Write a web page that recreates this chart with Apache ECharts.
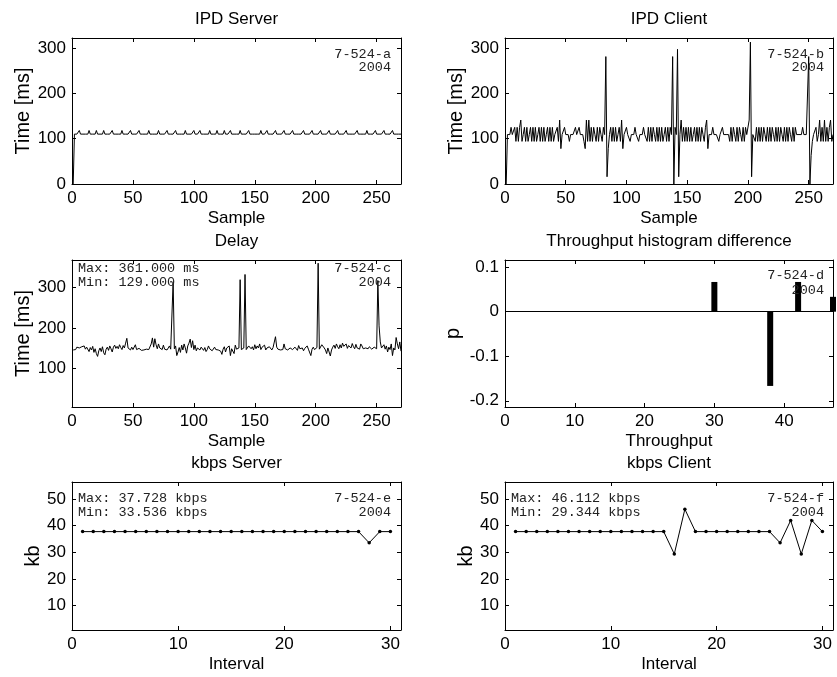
<!DOCTYPE html>
<html><head><meta charset="utf-8">
<script src="https://cdn.jsdelivr.net/npm/echarts@6/dist/echarts.min.js"></script>
<style>html,body{margin:0;padding:0;background:#fff}#c{width:837px;height:677px}</style>
</head><body><div id="c"></div>
<script>
// ---------- data ----------
const ipdServer = [
0,110,110,110,110,118,110,110,110,110, 110,110,110,118,110,110,110,110,110,118, 110,110,110,110,110,118,110,110,110,110,
110,110,118,110,110,110,110,110,110,110, 118,110,110,110,110,110,110,118,110,110, 110,110,110,110,118,110,110,110,110,110,
110,110,118,110,110,110,110,110,110,110, 118,110,110,110,110,110,110,118,110,110, 110,110,110,110,118,110,110,110,110,110,
110,110,118,110,110,110,110,110,110,118, 110,110,110,110,118,110,110,110,110,110, 110,110,118,110,110,110,110,110,118,110,
110,110,110,110,118,110,110,110,110,118, 110,110,110,110,110,110,110,118,110,110, 110,110,110,110,118,110,110,110,110,110,
110,110,110,110,118,110,110,110,110,118, 110,110,110,110,110,110,118,110,110,110, 110,110,110,118,110,110,110,110,110,110,
118,110,110,110,110,110,110,110,110,118, 110,110,110,110,110,110,118,110,110,110, 110,110,110,118,110,110,110,110,110,110,
118,110,110,110,110,110,110,118,110,110, 110,110,110,110,118,110,110,110,110,110, 110,110,110,118,110,110,110,110,110,110,
110,118,110,110,110,110,110,110,118,110, 110,110,110,110,110,118,110,110,110,110, 110,110,118,110,110,110,110,110,110,110
];
const ipdClient = [
0,109,109,109,125,109,109,125,94,125, 94,125,141,94,109,125,94,125,94,109, 125,94,125,94,125,94,109,125,94,125,
94,125,94,109,125,94,125,94,125,94, 109,109,125,94,141,78,109,109,125,109, 109,109,94,109,109,109,109,125,109,109,
125,109,109,109,94,78,141,94,141,94, 125,94,125,109,94,125,94,125,109,94, 125,109,281,16,78,109,125,94,125,94,
125,94,109,125,94,141,78,109,109,125, 109,109,94,109,109,109,125,109,109,94, 109,109,109,125,109,109,94,125,94,125,
94,125,109,94,125,94,125,94,125,94, 109,125,94,125,94,125,109,281,0,125, 109,297,16,109,141,94,125,94,125,94,
125,94,125,94,109,125,94,125,94,125, 94,125,109,94,125,141,78,109,109,109, 125,109,109,109,109,94,109,109,125,109,
109,109,109,109,94,125,94,125,109,94, 125,94,125,109,94,125,94,125,109,109, 141,313,16,109,109,94,125,94,125,94,
125,94,125,109,94,125,94,125,94,125, 109,94,125,94,125,94,125,109,94,125, 94,125,94,125,109,94,125,94,125,109,
109,109,109,109,125,109,109,109,109,281, 0,63,94,109,109,125,94,109,141,94, 125,94,141,94,125,94,125,141,94,109
];
const delay = [
145,144,146,152,156,150,148,153,149,155, 147,152,150,141,151,145,154,139,148,136, 129,143,150,141,153,138,133,147,152,144,
155,148,140,152,157,149,154,148,158,151, 146,156,150,162,174,150,147,145,152,146, 147,158,146,145,149,147,144,146,145,147,
147,150,146,144,160,175,152,173,158,148, 160,150,153,146,157,147,149,145,150,155, 147,146,315,148,155,131,140,151,139,157,
145,160,150,137,155,162,172,151,168,146, 157,143,150,147,145,152,148,144,151,141, 146,155,148,150,143,147,152,146,149,145,
148,142,134,147,153,140,150,146,155,131, 148,152,136,157,147,145,150,320,146,150, 150,333,146,148,155,159,148,153,145,158,
148,155,150,160,146,152,148,157,145,150, 147,153,149,145,151,148,178,152,147,146, 145,147,146,160,148,146,145,148,150,154,
146,145,152,149,144,156,148,146,150,143, 149,145,155,147,150,131,147,152,146,143, 151,361,147,148,158,160,150,145,136,150,
146,130,145,152,157,149,160,153,148,158, 150,162,154,151,160,149,156,158,150,161, 153,148,159,150,152,147,160,155,148,152,
150,152,148,153,150,147,149,152,150,148, 318,205,165,150,148,158,147,155,140,152, 146,160,131,150,145,176,160,148,165,142
];
const intervals = [1,2,3,4,5,6,7,8,9,10,11,12,13,14,15,16,17,18,19,20,21,22,23,24,25,26,27,28,29,30];
const kbpsServer = [37.728,37.728,37.728,37.728,37.728,37.728,37.728,37.728,37.728,37.728,
  37.728,37.728,37.728,37.728,37.728,37.728,37.728,37.728,37.728,37.728,
  37.728,37.728,37.728,37.728,37.728,37.728,37.728,33.536,37.728,37.728];
const kbpsClient = [37.728,37.728,37.728,37.728,37.728,37.728,37.728,37.728,37.728,37.728,
  37.728,37.728,37.728,37.728,37.728,29.344,46.112,37.728,37.728,37.728,
  37.728,37.728,37.728,37.728,37.728,33.536,41.92,29.344,41.92,37.728];
const throughputBins = [30, 38, 42, 47];
const throughputDiff = [0.0667, -0.1667, 0.0667, 0.0333];

const sampleTicks = [0,50,100,150,200,250];
const timeTicks = [0,100,200,300];
const delayTicks = [100,200,300];
const throughputTicks = [0,10,20,30,40];
const pTicks = [-0.2,-0.1,0,0.1];
const intervalTicks = [0,10,20,30];
const kbTicks = [10,20,30,40,50];

// ---------- layout ----------
const SANS = '"Liberation Sans", Arial, sans-serif';
const MONO = '"Liberation Mono", "Courier New", monospace';
const grids = [
  {left:72, top:38, width:329, height:146},
  {left:505, top:38, width:328, height:146},
  {left:72, top:260, width:329, height:147},
  {left:505, top:260, width:328, height:147},
  {left:72, top:482, width:329, height:148},
  {left:505, top:482, width:328, height:148}
];
const axisSpec = [
  {x:{min:0,max:270,ticks:sampleTicks,name:'Sample'}, y:{min:0,max:322,ticks:timeTicks,name:'Time [ms]',gap:38}},
  {x:{min:0,max:270,ticks:sampleTicks,name:'Sample'}, y:{min:0,max:322,ticks:timeTicks,name:'Time [ms]',gap:38}},
  {x:{min:0,max:270,ticks:sampleTicks,name:'Sample'}, y:{min:3,max:369,ticks:delayTicks,name:'Time [ms]',gap:38}},
  {x:{min:0,max:47,ticks:throughputTicks,name:'Throughput'}, y:{min:-0.214,max:0.116,ticks:pTicks,name:'p',gap:42}},
  {x:{min:0,max:31,ticks:intervalTicks,name:'Interval'}, y:{min:0.9,max:56.3,ticks:kbTicks,name:'kb',gap:29}},
  {x:{min:0,max:31,ticks:intervalTicks,name:'Interval'}, y:{min:0.9,max:56.3,ticks:kbTicks,name:'kb',gap:29}}
];
const black = {color:'#000', width:1};
const xAxes = [], yAxes = [];
axisSpec.forEach((s, gi) => {
  ['bottom','top'].forEach((pos, k) => {
    xAxes.push({type:'value', gridIndex:gi, position:pos, min:s.x.min, max:s.x.max,
      axisLine:{show:true, onZero:false, lineStyle:black},
      axisTick:{show:true, inside:true, length:4, customValues:s.x.ticks, lineStyle:black},
      axisLabel:{show:k===0, customValues:s.x.ticks, color:'#000', fontFamily:SANS, fontSize:17, margin:6},
      splitLine:{show:false},
      name: k===0 ? s.x.name : '', nameLocation:'middle', nameGap:26,
      nameTextStyle:{color:'#000', fontFamily:SANS, fontSize:17}});
  });
  ['left','right'].forEach((pos, k) => {
    yAxes.push({type:'value', gridIndex:gi, position:pos, min:s.y.min, max:s.y.max,
      axisLine:{show:true, onZero:false, lineStyle:black},
      axisTick:{show:true, inside:true, length:4, customValues:s.y.ticks, lineStyle:black},
      axisLabel:{show:k===0, customValues:s.y.ticks, color:'#000', fontFamily:SANS, fontSize:17, margin:6},
      splitLine:{show:false},
      name: k===0 ? s.y.name : '', nameLocation:'middle', nameGap:s.y.gap,
      nameTextStyle:{color:'#000', fontFamily:SANS, fontSize:20}});
  });
});

const pairs = arr => arr.map((v, i) => [i + 1, v]);
const lineS = (gi, data, extra) => Object.assign({type:'line', xAxisIndex:gi*2, yAxisIndex:gi*2,
  data, showSymbol:false, symbol:'none', lineStyle:{color:'#000', width:1}, itemStyle:{color:'#000'},
  animation:false, silent:true}, extra || {});

const series = [
  lineS(0, pairs(ipdServer)),
  lineS(1, pairs(ipdClient)),
  lineS(2, pairs(delay)),
  {type:'bar', xAxisIndex:6, yAxisIndex:6, data: throughputBins.map((b,i)=>[b, throughputDiff[i]]),
   barWidth:6, itemStyle:{color:'#000'}, animation:false, silent:true, clip:true,
   markLine:{silent:true, symbol:['none','none'], label:{show:false}, lineStyle:{color:'#000', width:1, type:'solid'},
     data:[{yAxis:0}], animation:false}},
  lineS(4, intervals.map((x,i)=>[x, kbpsServer[i]]), {showSymbol:true, symbol:'circle', symbolSize:3.5}),
  lineS(5, intervals.map((x,i)=>[x, kbpsClient[i]]), {showSymbol:true, symbol:'circle', symbolSize:3.5})
];

const txt = (x, y, text, font, align, color) => ({type:'text', x, y, z:100,
  style:{text, font, fill:color || '#000', align, verticalAlign:'middle'}});
const tFont = '17px ' + SANS, aFont = '13.5px ' + MONO, aCol = '#222';
const graphic = [
  txt(236.5, 19, 'IPD Server', tFont, 'center'),
  txt(669, 19, 'IPD Client', tFont, 'center'),
  txt(236.5, 241, 'Delay', tFont, 'center'),
  txt(669, 241, 'Throughput histogram difference', tFont, 'center'),
  txt(236.5, 463, 'kbps Server', tFont, 'center'),
  txt(669, 463, 'kbps Client', tFont, 'center'),
  txt(391, 54, '7-524-a', aFont, 'right', aCol), txt(391, 67, '2004', aFont, 'right', aCol),
  txt(824, 54, '7-524-b', aFont, 'right', aCol), txt(824, 67, '2004', aFont, 'right', aCol),
  txt(78, 268.5, 'Max: 361.000 ms', aFont, 'left', aCol), txt(78, 282.5, 'Min: 129.000 ms', aFont, 'left', aCol),
  txt(391, 268.5, '7-524-c', aFont, 'right', aCol), txt(391, 282.5, '2004', aFont, 'right', aCol),
  txt(824, 275, '7-524-d', aFont, 'right', aCol), txt(824, 290, '2004', aFont, 'right', aCol),
  txt(78, 498.5, 'Max: 37.728 kbps', aFont, 'left', aCol), txt(78, 512, 'Min: 33.536 kbps', aFont, 'left', aCol),
  txt(391, 498.5, '7-524-e', aFont, 'right', aCol), txt(391, 512, '2004', aFont, 'right', aCol),
  txt(511, 498.5, 'Max: 46.112 kbps', aFont, 'left', aCol), txt(511, 512, 'Min: 29.344 kbps', aFont, 'left', aCol),
  txt(824, 498.5, '7-524-f', aFont, 'right', aCol), txt(824, 512, '2004', aFont, 'right', aCol)
];

const chart = echarts.init(document.getElementById('c'), null, {renderer:'canvas'});
chart.setOption({animation:false, backgroundColor:'#fff', grid:grids, xAxis:xAxes, yAxis:yAxes, series, graphic});
</script></body></html>
